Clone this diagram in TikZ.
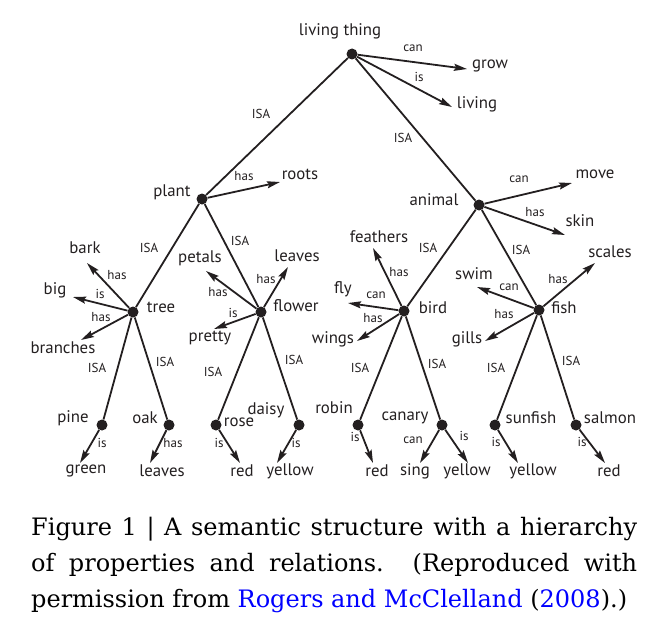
\documentclass[tikz,border=0pt]{standalone}
\usepackage{fontspec}
\setsansfont{PT Sans}
\newfontfamily\capfont{DejaVu Serif}
\usetikzlibrary{arrows.meta}
\definecolor{ink}{HTML}{231F20}
\definecolor{linkblue}{RGB}{0,0,255}
\begin{document}
\begin{tikzpicture}[x=1pt,y=-1pt,
  dot/.style={circle,fill=ink,inner sep=0pt,minimum size=11pt},
  lbl/.style={font=\sffamily\fontsize{16.8}{20}\selectfont,text=ink,inner sep=0pt},
  rel/.style={font=\sffamily\fontsize{13}{15}\selectfont,text=ink,inner sep=0pt},
  isa/.style={draw=ink,line width=1.8pt},
  arr/.style={draw=ink,line width=1.8pt,-{Stealth[length=13pt,width=7pt,inset=2pt]}},
  captxt/.style={font=\capfont\fontsize{24}{36}\selectfont,anchor=base west,inner sep=0pt}]
\useasboundingbox (0,0) rectangle (666,634);
% dots
\node[dot] (lt) at (352,54) {};
\node[dot] (plant) at (202,199) {};
\node[dot] (animal) at (479,205) {};
\node[dot] (tree) at (133,312) {};
\node[dot] (flower) at (261,312) {};
\node[dot] (bird) at (404,311) {};
\node[dot] (fish) at (539,310) {};
\node[dot] (pine) at (102,425) {};
\node[dot] (oak) at (169,425) {};
\node[dot] (rose) at (216,425) {};
\node[dot] (daisy) at (299,425) {};
\node[dot] (robin) at (358,425) {};
\node[dot] (canary) at (442,425) {};
\node[dot] (sunfish) at (495,425) {};
\node[dot] (salmon) at (576,425) {};
% dot labels
\node[lbl] (t-lt) at (340,31) {living thing};
\node[lbl] (t-plant) at (172,192) {plant};
\node[lbl] (t-animal) at (434,200) {animal};
\node[lbl] (t-tree) at (161,307) {tree};
\node[lbl] (t-flower) at (296,306) {flower};
\node[lbl] (t-bird) at (433,308) {bird};
\node[lbl] (t-fish) at (564,308) {fish};
\node[lbl] (t-pine) at (73,418) {pine};
\node[lbl] (t-oak) at (145,418) {oak};
\node[lbl] (t-rose) at (239,422) {rose};
\node[lbl] (t-daisy) at (266,410) {daisy};
\node[lbl] (t-robin) at (334,408) {robin};
\node[lbl] (t-canary) at (405,418) {canary};
\node[lbl] (t-sunfish) at (531,418) {sunfish};
\node[lbl] (t-salmon) at (610,418) {salmon};
% ISA edges
\draw[isa] (lt) -- (plant);
\draw[isa] (lt) -- (animal);
\draw[isa] (plant) -- (tree);
\draw[isa] (plant) -- (flower);
\draw[isa] (animal) -- (bird);
\draw[isa] (animal) -- (fish);
\draw[isa] (tree) -- (pine);
\draw[isa] (tree) -- (oak);
\draw[isa] (flower) -- (rose);
\draw[isa] (flower) -- (daisy);
\draw[isa] (bird) -- (robin);
\draw[isa] (bird) -- (canary);
\draw[isa] (fish) -- (sunfish);
\draw[isa] (fish) -- (salmon);
% ISA labels
\node[rel] (i1) at (261,114) {ISA};
\node[rel] (i2) at (403,138) {ISA};
\node[rel] (i3) at (149,248) {ISA};
\node[rel] (i4) at (240,241) {ISA};
\node[rel] (i5) at (428,248) {ISA};
\node[rel] (i6) at (521,250) {ISA};
\node[rel] (i7) at (97,368) {ISA};
\node[rel] (i8) at (165,362) {ISA};
\node[rel] (i9) at (213,372) {ISA};
\node[rel] (i10) at (294,360) {ISA};
\node[rel] (i11) at (360,368) {ISA};
\node[rel] (i12) at (437,364) {ISA};
\node[rel] (i13) at (496,368) {ISA};
\node[rel] (i14) at (571,361) {ISA};
% property arrows: tip coordinates
\coordinate (c-grow) at (467,69);
\coordinate (c-living) at (452,107);
\coordinate (c-roots) at (280,182);
\coordinate (c-move) at (572,183);
\coordinate (c-skin) at (565,235);
\coordinate (c-bark) at (87,263);
\coordinate (c-big) at (73,297);
\coordinate (c-branches) at (81,340);
\coordinate (c-petals) at (206,271);
\coordinate (c-leaves) at (288,267);
\coordinate (c-pretty) at (214,329);
\coordinate (c-feathers) at (373,248);
\coordinate (c-fly) at (348,303);
\coordinate (c-wings) at (357,341);
\coordinate (c-scales) at (595,263);
\coordinate (c-swim) at (477,287);
\coordinate (c-gills) at (485,341);
\coordinate (c-green) at (80,463);
\coordinate (c-leaves2) at (150,463);
\coordinate (c-red) at (240,463);
\coordinate (c-yellow) at (277,463);
\coordinate (c-red2) at (373,463);
\coordinate (c-sing) at (420,463);
\coordinate (c-yellow2) at (468,463);
\coordinate (c-yellow3) at (518,463);
\coordinate (c-red3) at (605,463);
\draw[arr] (lt) -- (c-grow);
\draw[arr] (lt) -- (c-living);
\draw[arr] (plant) -- (c-roots);
\draw[arr] (animal) -- (c-move);
\draw[arr] (animal) -- (c-skin);
\draw[arr] (tree) -- (c-bark);
\draw[arr] (tree) -- (c-big);
\draw[arr] (tree) -- (c-branches);
\draw[arr] (flower) -- (c-petals);
\draw[arr] (flower) -- (c-leaves);
\draw[arr] (flower) -- (c-pretty);
\draw[arr] (bird) -- (c-feathers);
\draw[arr] (bird) -- (c-fly);
\draw[arr] (bird) -- (c-wings);
\draw[arr] (fish) -- (c-scales);
\draw[arr] (fish) -- (c-swim);
\draw[arr] (fish) -- (c-gills);
\draw[arr] (pine) -- (c-green);
\draw[arr] (oak) -- (c-leaves2);
\draw[arr] (rose) -- (c-red);
\draw[arr] (daisy) -- (c-yellow);
\draw[arr] (robin) -- (c-red2);
\draw[arr] (canary) -- (c-sing);
\draw[arr] (canary) -- (c-yellow2);
\draw[arr] (sunfish) -- (c-yellow3);
\draw[arr] (salmon) -- (c-red3);
% property texts
\node[lbl] (p-grow) at (490,66) {grow};
\node[lbl] (p-living) at (477,104) {living};
\node[lbl] (p-roots) at (300,174) {roots};
\node[lbl] (p-move) at (595,174) {move};
\node[lbl] (p-skin) at (580,221) {skin};
\node[lbl] (p-bark) at (85,248) {bark};
\node[lbl] (p-big) at (55,290) {big};
\node[lbl] (p-branches) at (63,348) {branches};
\node[lbl] (p-petals) at (200,258) {petals};
\node[lbl] (p-leaves) at (297,256) {leaves};
\node[lbl] (p-pretty) at (210,338) {pretty};
\node[lbl] (p-feathers) at (379,237) {feathers};
\node[lbl] (p-fly) at (343,289) {fly};
\node[lbl] (p-wings) at (333,339) {wings};
\node[lbl] (p-scales) at (610,252) {scales};
\node[lbl] (p-swim) at (474,274) {swim};
\node[lbl] (p-gills) at (467,339) {gills};
\node[lbl] (p-green) at (86,471) {green};
\node[lbl] (p-leaves2) at (162,471) {leaves};
\node[lbl] (p-red) at (242,471) {red};
\node[lbl] (p-yellow) at (290,471) {yellow};
\node[lbl] (p-red2) at (377,471) {red};
\node[lbl] (p-sing) at (415,471) {sing};
\node[lbl] (p-yellow2) at (467,471) {yellow};
\node[lbl] (p-yellow3) at (533,471) {yellow};
\node[lbl] (p-red3) at (609,471) {red};
% relation labels
\node[rel] (r-grow) at (413,48) {can};
\node[rel] (r-living) at (419,77) {is};
\node[rel] (r-roots) at (244,176) {has};
\node[rel] (r-move) at (519,179) {can};
\node[rel] (r-skin) at (535,212) {has};
\node[rel] (r-bark) at (117,275) {has};
\node[rel] (r-big) at (100,294) {is};
\node[rel] (r-branches) at (101,317) {has};
\node[rel] (r-petals) at (218,292) {has};
\node[rel] (r-leaves) at (266,279) {has};
\node[rel] (r-pretty) at (233,313) {is};
\node[rel] (r-feathers) at (399,272) {has};
\node[rel] (r-fly) at (376,295) {can};
\node[rel] (r-wings) at (373,318) {has};
\node[rel] (r-scales) at (558,279) {has};
\node[rel] (r-swim) at (509,287) {can};
\node[rel] (r-gills) at (504,314) {has};
\node[rel] (r-green) at (102,443) {is};
\node[rel] (r-leaves2) at (173,443) {has};
\node[rel] (r-red) at (219,443) {is};
\node[rel] (r-yellow) at (296,443) {is};
\node[rel] (r-red2) at (355,437) {is};
\node[rel] (r-sing) at (413,440) {can};
\node[rel] (r-yellow2) at (464,436) {is};
\node[rel] (r-yellow3) at (496,442) {is};
\node[rel] (r-red3) at (582,442) {is};
% caption
\node[captxt] (cap1) at (31,535) {\makebox[606pt][s]{Figure 1 | A semantic structure with a hierarchy}};
\node[captxt] (cap2) at (31,571) {\makebox[606pt][s]{of properties and relations.\ \ (Reproduced with}};
\node[captxt] (cap3) at (31,607) {permission from \textcolor{linkblue}{Rogers and McClelland} (\textcolor{linkblue}{2008}).)};
\end{tikzpicture}
\end{document}
